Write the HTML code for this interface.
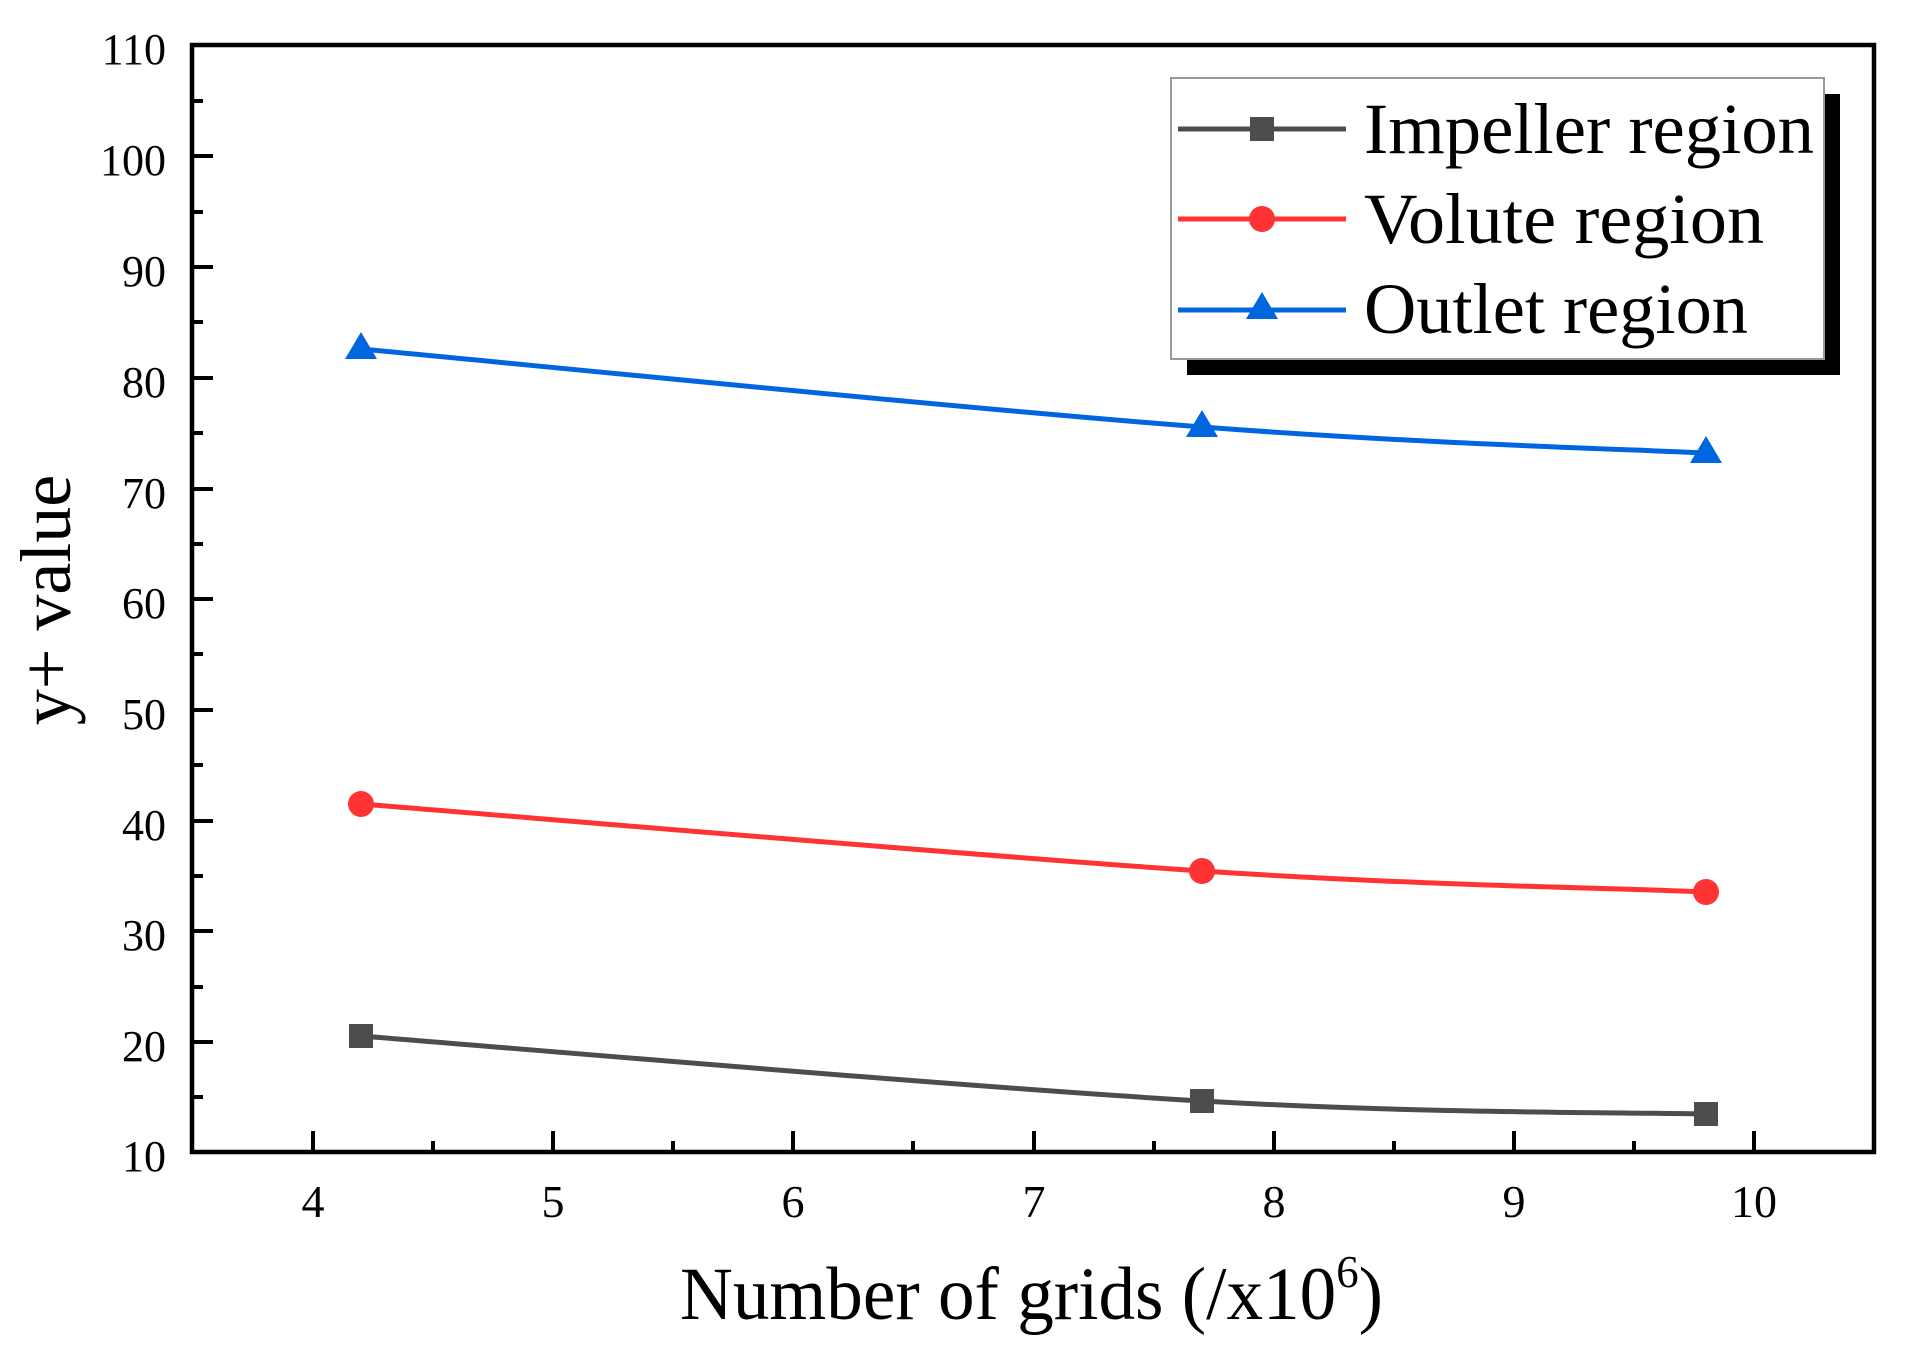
<!DOCTYPE html>
<html><head><meta charset="utf-8"><style>html,body{margin:0;padding:0;background:#fff}svg{display:block}</style></head>
<body>
<svg width="1910" height="1368" viewBox="0 0 1910 1368" xmlns="http://www.w3.org/2000/svg" font-family="'Liberation Serif', serif">
<rect width="1910" height="1368" fill="#fff"/>
<rect x="192" y="45" width="1682" height="1107" fill="none" stroke="#000" stroke-width="4.5"/>
<g stroke="#000" stroke-width="4">
<line x1="192" y1="1042" x2="213" y2="1042"/><line x1="192" y1="931" x2="213" y2="931"/><line x1="192" y1="821" x2="213" y2="821"/><line x1="192" y1="710" x2="213" y2="710"/><line x1="192" y1="599" x2="213" y2="599"/><line x1="192" y1="489" x2="213" y2="489"/><line x1="192" y1="378" x2="213" y2="378"/><line x1="192" y1="267" x2="213" y2="267"/><line x1="192" y1="156" x2="213" y2="156"/>
<line x1="192" y1="1097" x2="203" y2="1097"/><line x1="192" y1="987" x2="203" y2="987"/><line x1="192" y1="876" x2="203" y2="876"/><line x1="192" y1="765" x2="203" y2="765"/><line x1="192" y1="654" x2="203" y2="654"/><line x1="192" y1="544" x2="203" y2="544"/><line x1="192" y1="433" x2="203" y2="433"/><line x1="192" y1="322" x2="203" y2="322"/><line x1="192" y1="212" x2="203" y2="212"/><line x1="192" y1="101" x2="203" y2="101"/>
<line x1="313" y1="1152" x2="313" y2="1131"/><line x1="553" y1="1152" x2="553" y2="1131"/><line x1="793" y1="1152" x2="793" y2="1131"/><line x1="1034" y1="1152" x2="1034" y2="1131"/><line x1="1274" y1="1152" x2="1274" y2="1131"/><line x1="1514" y1="1152" x2="1514" y2="1131"/><line x1="1754" y1="1152" x2="1754" y2="1131"/>
<line x1="433" y1="1152" x2="433" y2="1141"/><line x1="673" y1="1152" x2="673" y2="1141"/><line x1="913" y1="1152" x2="913" y2="1141"/><line x1="1154" y1="1152" x2="1154" y2="1141"/><line x1="1394" y1="1152" x2="1394" y2="1141"/><line x1="1634" y1="1152" x2="1634" y2="1141"/>
</g>
<g font-size="44" text-anchor="end" fill="#000">
<text x="166" y="1171">10</text><text x="166" y="1061">20</text><text x="166" y="950">30</text><text x="166" y="840">40</text><text x="166" y="729">50</text><text x="166" y="618">60</text><text x="166" y="508">70</text><text x="166" y="397">80</text><text x="166" y="286">90</text><text x="166" y="175">100</text><text x="166" y="64">110</text>
</g>
<g font-size="46" text-anchor="middle" fill="#000">
<text x="313" y="1217">4</text><text x="553" y="1217">5</text><text x="793" y="1217">6</text><text x="1034" y="1217">7</text><text x="1274" y="1217">8</text><text x="1514" y="1217">9</text><text x="1754" y="1217">10</text>
</g>
<text x="680" y="1319" font-size="75" fill="#000" textLength="703" lengthAdjust="spacingAndGlyphs">Number of grids (/x10<tspan font-size="46" dy="-32">6</tspan><tspan dy="32">)</tspan></text>
<text transform="translate(70,600) rotate(-90)" font-size="72" text-anchor="middle" fill="#000">y+ value</text>
<path d="M361,1036 C501,1047 978,1088 1202,1101 C1426,1114 1622,1112 1706,1114" fill="none" stroke="#4d4d4d" stroke-width="5"/>
<path d="M361,804 C501,815 978,856 1202,871 C1426,886 1622,888 1706,892" fill="none" stroke="#ff3333" stroke-width="5"/>
<path d="M361,349 C501,362 978,410 1202,427 C1426,444 1622,449 1706,453" fill="none" stroke="#0066e0" stroke-width="5"/>
<g fill="#4d4d4d"><rect x="349" y="1024" width="24" height="24"/><rect x="1190" y="1089" width="24" height="24"/><rect x="1694" y="1102" width="24" height="24"/></g>
<g fill="#ff3333"><circle cx="361" cy="804" r="13"/><circle cx="1202" cy="871" r="13"/><circle cx="1706" cy="892" r="13"/></g>
<g fill="#0066e0"><polygon points="361,332 345,359 377,359"/><polygon points="1202,410 1186,437 1218,437"/><polygon points="1706,436 1690,463 1722,463"/></g>
<rect x="1187" y="94" width="653" height="281" fill="#000"/>
<rect x="1171" y="78" width="653" height="281" fill="#fff" stroke="#999" stroke-width="2"/>
<line x1="1178" y1="129" x2="1346" y2="129" stroke="#4d4d4d" stroke-width="5"/>
<rect x="1250" y="117" width="24" height="24" fill="#4d4d4d"/>
<line x1="1178" y1="219" x2="1346" y2="219" stroke="#ff3333" stroke-width="5"/>
<circle cx="1262" cy="219" r="13" fill="#ff3333"/>
<line x1="1178" y1="310" x2="1346" y2="310" stroke="#0066e0" stroke-width="5"/>
<polygon points="1262,292 1246,319 1278,319" fill="#0066e0"/>
<g font-size="72" fill="#000">
<text x="1364" y="153" textLength="450" lengthAdjust="spacingAndGlyphs">Impeller region</text>
<text x="1364" y="243" textLength="400" lengthAdjust="spacingAndGlyphs">Volute region</text>
<text x="1364" y="333" textLength="384" lengthAdjust="spacingAndGlyphs">Outlet region</text>
</g>
</svg>
</body></html>
